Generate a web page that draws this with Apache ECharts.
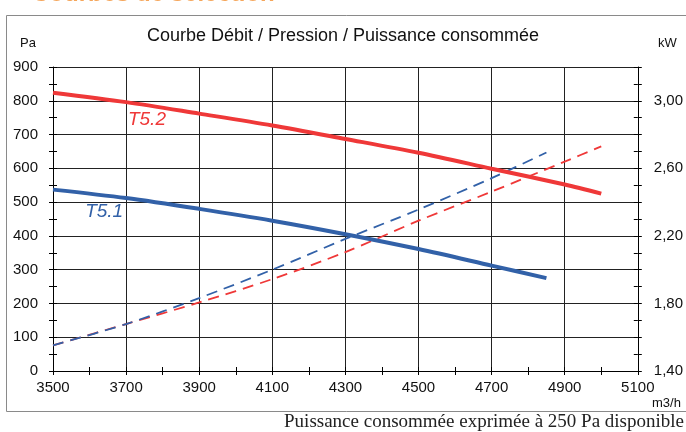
<!DOCTYPE html>
<html><head><meta charset="utf-8">
<script src="https://cdn.jsdelivr.net/npm/echarts@6/dist/echarts.min.js"></script>
<style>html,body{margin:0;padding:0;background:#fff}#c{width:686px;height:432px}</style>
</head><body><div id="c"></div>
<script>
// Débit (m3/h)
const flowT51 = [3500, 3700, 3900, 4100, 4300, 4500, 4700, 4850];
const flowT52 = [3500, 3700, 3900, 4100, 4300, 4500, 4700, 4900, 5000];
// Pression (Pa)
const pressureT51 = [537, 512, 480, 445, 405, 361, 312, 275];
const pressureT52 = [824, 796, 762, 727, 687, 646, 599, 552, 525];
// Puissance consommée (kW)
const powerT51 = [1.552, 1.678, 1.832, 2.00, 2.182, 2.356, 2.542, 2.694];
const powerT52 = [1.552, 1.678, 1.806, 1.944, 2.104, 2.290, 2.462, 2.640, 2.730];
// Axes
const xMin = 3500, xMax = 5100, xStep = 200;
const paMin = 0, paMax = 900, paStep = 100;
const kwMin = 1.4, kwMax = 3.2, kwStep = 0.4;

const RED = '#EF3838', BLUE = '#3261A8';
const pairs = (xs, ys) => xs.map((x, i) => [x, ys[i]]);
const font = 'Liberation Sans';

const chart = echarts.init(document.getElementById('c'));
const tickStyle = {color: '#000', width: 1};
const baseX = {
  type: 'value', min: xMin, max: xMax, interval: xStep, position: 'bottom'
};
chart.setOption({
  animation: false,
  grid: {left: 53, right: 48, top: 67, bottom: 61, containLabel: false},
  title: {
    text: 'Courbe Débit / Pression / Puissance consommée',
    left: 'center', top: 22,
    textStyle: {fontFamily: font, fontSize: 18, fontWeight: 'normal', color: '#111'}
  },
  graphic: [
    {type: 'rect', shape: {x: 6.5, y: 15.5, width: 700, height: 396}, style: {fill: 'none', stroke: '#8a8a8a', lineWidth: 1}, z: -1},
    {type: 'text', left: 32, top: -18, style: {text: 'Courbes de sélection', fontFamily: font, fontSize: 24, fontWeight: 'bold', fill: '#F5A65B'}},
    {type: 'text', left: 20, top: 37, style: {text: 'Pa', fontFamily: font, fontSize: 13, fill: '#111'}},
    {type: 'text', left: 658, top: 37, style: {text: 'kW', fontFamily: font, fontSize: 13, fill: '#111'}},
    {type: 'text', left: 652, top: 397, style: {text: 'm3/h', fontFamily: font, fontSize: 13, fill: '#111'}},
    {type: 'text', right: 2, top: 413, style: {text: 'Puissance consommée exprimée à 250 Pa disponible', fontFamily: 'Liberation Serif', fontSize: 19, fill: '#222'}}
  ],
  xAxis: [
    Object.assign({}, baseX, {
      axisLine: {show: true, onZero: false, lineStyle: {color: '#000', width: 1}},
      axisTick: {show: true, inside: false, length: 4, lineStyle: tickStyle},
      minorTick: {show: true, splitNumber: 2, length: 4, lineStyle: tickStyle},
      axisLabel: {fontFamily: font, fontSize: 15, color: '#111', margin: 9, formatter: v => String(v)},
      splitLine: {show: true, lineStyle: {color: '#222', width: 1}}
    }),
    Object.assign({}, baseX, {
      axisLine: {show: false},
      axisTick: {show: true, inside: true, length: 4, lineStyle: tickStyle},
      minorTick: {show: true, splitNumber: 2, length: 4, lineStyle: tickStyle},
      axisLabel: {show: false}, splitLine: {show: false}
    })
  ],
  yAxis: [
    {
      type: 'value', min: paMin, max: paMax, interval: paStep, position: 'left',
      axisLine: {show: true, onZero: false, lineStyle: {color: '#000', width: 1}},
      axisTick: {show: true, inside: false, length: 4, lineStyle: tickStyle},
      minorTick: {show: true, splitNumber: 2, length: 4, lineStyle: tickStyle},
      axisLabel: {fontFamily: font, fontSize: 15, color: '#111', margin: 15, formatter: v => String(v)},
      splitLine: {show: true, lineStyle: {color: '#222', width: 1}}
    },
    {
      type: 'value', min: paMin, max: paMax, interval: paStep, position: 'left',
      axisLine: {show: false},
      axisTick: {show: true, inside: true, length: 4, lineStyle: tickStyle},
      minorTick: {show: true, splitNumber: 2, length: 4, lineStyle: tickStyle},
      axisLabel: {show: false}, splitLine: {show: false}
    },
    {
      type: 'value', min: kwMin, max: kwMax, interval: kwStep, position: 'right',
      axisLine: {show: true, onZero: false, lineStyle: {color: '#000', width: 1}},
      axisTick: {show: true, inside: false, length: 4, lineStyle: tickStyle},
      minorTick: {show: true, splitNumber: 4, length: 4, lineStyle: tickStyle},
      axisLabel: {fontFamily: font, fontSize: 15, color: '#111', margin: 16, showMaxLabel: false,
        formatter: v => (Math.abs(v - kwMax) < 1e-6 ? '' : v.toFixed(2).replace('.', ','))},
      splitLine: {show: false}
    },
    {
      type: 'value', min: kwMin, max: kwMax, interval: kwStep, position: 'right',
      axisLine: {show: false},
      axisTick: {show: true, inside: true, length: 4, lineStyle: tickStyle},
      minorTick: {show: true, splitNumber: 4, length: 4, lineStyle: tickStyle},
      axisLabel: {show: false}, splitLine: {show: false}
    }
  ],
  series: [
    {
      name: 'T5.2 puissance', type: 'line', yAxisIndex: 2, smooth: 0.3, symbol: 'none',
      data: pairs(flowT52, powerT52),
      lineStyle: {color: RED, width: 1.8, type: [11, 7]}, z: 3
    },
    {
      name: 'T5.1 puissance', type: 'line', yAxisIndex: 2, smooth: 0.3, symbol: 'none',
      data: pairs(flowT51, powerT51),
      lineStyle: {color: BLUE, width: 1.8, type: [11, 7]}, z: 3
    },
    {
      name: 'T5.2', type: 'line', yAxisIndex: 0, smooth: 0.3, symbol: 'none',
      data: pairs(flowT52, pressureT52),
      lineStyle: {color: RED, width: 4}, z: 4,
      markPoint: {symbol: 'circle', symbolSize: 0, silent: true,
        data: [{coord: [3757, 745], value: 'T5.2'}],
        label: {show: true, position: 'inside', formatter: 'T5.2', fontFamily: font, fontSize: 19, fontStyle: 'italic', color: RED}}
    },
    {
      name: 'T5.1', type: 'line', yAxisIndex: 0, smooth: 0.3, symbol: 'none',
      data: pairs(flowT51, pressureT51),
      lineStyle: {color: BLUE, width: 4}, z: 4,
      markPoint: {symbol: 'circle', symbolSize: 0, silent: true,
        data: [{coord: [3640, 472], value: 'T5.1'}],
        label: {show: true, position: 'inside', formatter: 'T5.1', fontFamily: font, fontSize: 19, fontStyle: 'italic', color: BLUE}}
    }
  ]
});
</script></body></html>
